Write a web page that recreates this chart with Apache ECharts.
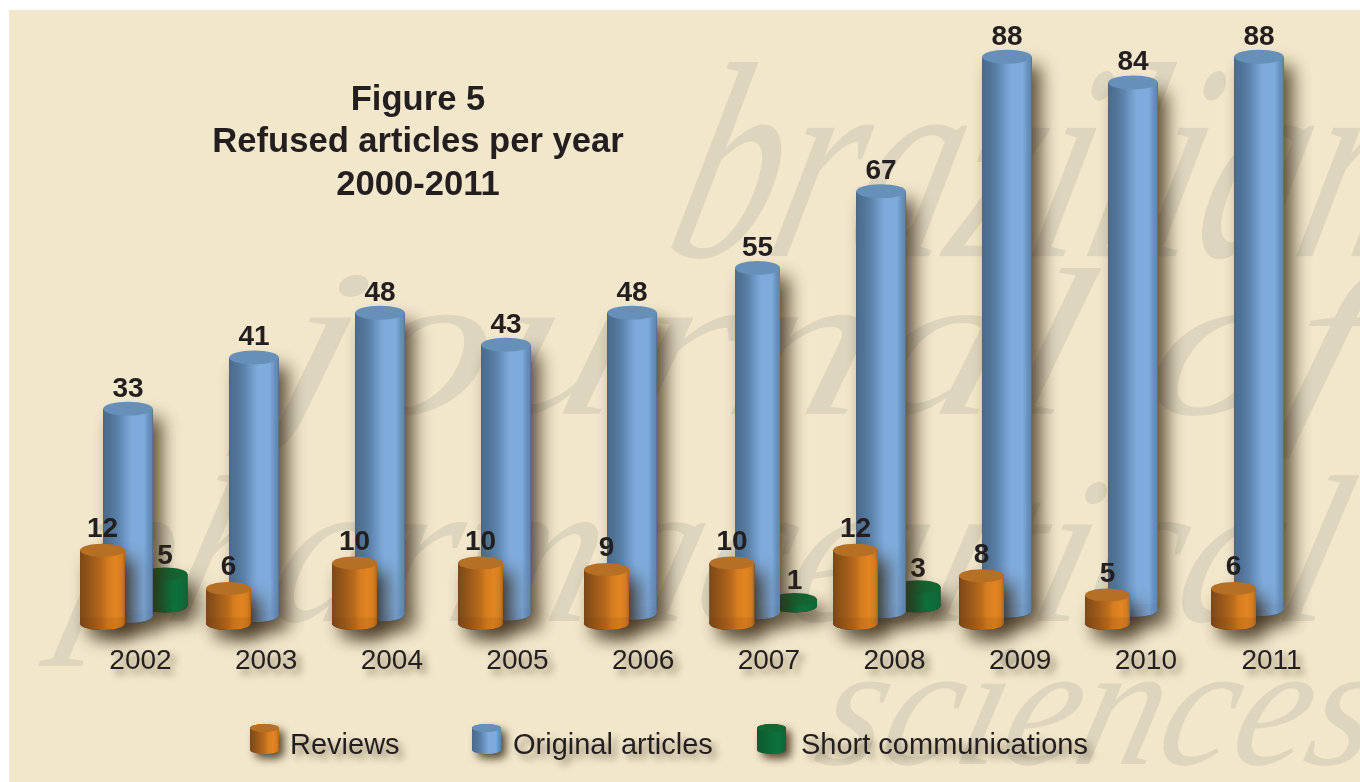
<!DOCTYPE html>
<html>
<head>
<meta charset="utf-8">
<style>
html,body{margin:0;padding:0;background:#fff;width:1360px;height:782px;overflow:hidden}
#chart{position:absolute;left:9px;top:10px;width:1351px;height:772px}
</style>
<script src="https://cdn.jsdelivr.net/npm/echarts@6/dist/echarts.min.js"></script>
</head>
<body>
<div id="chart"></div>
<script>
const years = ['2002','2003','2004','2005','2006','2007','2008','2009','2010','2011'];
const reviews = [12,6,10,10,9,10,12,8,5,6];
const originalArticles = [33,41,48,43,48,55,67,88,84,88];
const shortCommunications = [5,null,null,null,null,1,3,null,null,null];
const titleText = 'Figure 5\nRefused articles per year\n2000-2011';

const FONT = '"Liberation Sans", Arial, sans-serif';
const INK = '#231f20';
const SHADOW = 'rgba(52,38,18,0.8)';
const columnNudge = [0,.33,.67,1,1.33,1.15,-1,-.7,-.33,0];

function bands(stops){
  return new echarts.graphic.LinearGradient(0,0,1,0,stops.map(s=>({offset:s[0],color:s[1]})));
}
const looks = {
  orange:{w:45,ry:6.5,dx:-38,topDy:7,botDy:3.5,drift:0,top:'#b57026',shade:'rgba(110,60,10,0.14)',labelDy:-21,
    fill:[[0,'#7b4818'],[.12,'#8a5019'],[.3,'#a05c1a'],[.5,'#bb6c1d'],[.62,'#d67d20'],[.8,'#e28521'],[.93,'#d27c20'],[1,'#a9651f']]},
  blue:{w:49.5,ry:7,dx:-12.5,topDy:0,botDy:-4,drift:-.75,top:'#6790b8',shade:'rgba(60,100,150,0.06)',labelDy:-20,
    fill:[[0,'#4b6b8d'],[.14,'#507395'],[.3,'#5c82aa'],[.45,'#7099c8'],[.58,'#7fabdc'],[.82,'#7dabdc'],[.92,'#6890bd'],[1,'#5f83ab']]},
  green:{w:45,ry:6.5,dx:24.5,topDy:-14,botDy:-14,drift:0,top:'#136532',shade:'rgba(0,0,0,0)',labelDy:-18,
    fill:[[0,'#0f5a30'],[.3,'#0d6434'],[.7,'#0c733d'],[1,'#0e6536']]}
};

function cylinderItem(look){
  return function(params, api){
    const i = api.value(0), v = api.value(1);
    if (v == null || isNaN(v)) return null;
    const p = api.coord([i, v]), z = api.coord([i, 0]);
    const w = (look === looks.blue && i === 5) ? 45 : look.w;
    const cx = p[0] + look.dx + columnNudge[i];
    const yt = p[1] + look.topDy;
    const yb = Math.max(z[1] + look.botDy + look.drift * i, yt + 1);
    const rx = w / 2, ry = look.ry;
    const fill = bands(look.fill);
    const kids = [];
    const shadowStyle = {fill:'#3a2c16',shadowBlur:18,shadowColor:SHADOW,shadowOffsetX:9,shadowOffsetY:9};
    kids.push({type:'rect',shape:{x:cx-rx,y:yt,width:w,height:yb-yt},style:shadowStyle});
    kids.push({type:'ellipse',shape:{cx:cx,cy:yb,rx:rx,ry:ry},style:shadowStyle});
    kids.push({type:'rect',shape:{x:cx-rx,y:yt,width:w,height:yb-yt},style:{fill:fill}});
    kids.push({type:'ellipse',shape:{cx:cx,cy:yb,rx:rx,ry:ry},style:{fill:fill}});
    if (yb - yt > 18) {
      const pts = [[cx-rx,yb-6]];
      for (let k=0;k<=24;k++){const a=Math.PI*(1-k/24);pts.push([cx+rx*Math.cos(a),yb+ry*Math.sin(a)]);}
      pts.push([cx+rx,yb-6]);
      kids.push({type:'polygon',shape:{points:pts},style:{fill:look.shade}});
    }
    kids.push({type:'ellipse',shape:{cx:cx,cy:yt,rx:rx,ry:ry},style:{fill:look.top}});
    kids.push({type:'text',style:{text:String(v),x:cx,y:yt+look.labelDy,
      textAlign:'center',textVerticalAlign:'middle',font:'bold 28px '+FONT,fill:INK,
      shadowBlur:7,shadowColor:'rgba(60,45,20,0.55)',shadowOffsetX:4,shadowOffsetY:4}});
    return {type:'group',children:kids};
  };
}
function seriesOf(name, values, look, z){
  return {
    type:'custom',name:name,z:z,clip:false,
    encode:{x:0,y:1},
    renderItem:cylinderItem(look),
    itemStyle:{color:bands(look.fill)},
    data:values.map((v,i)=>[i,v])
  };
}
function legendOf(name, look, left, gap){
  return {
    left:left-9,top:714,padding:0,itemWidth:29,itemHeight:30,selectedMode:false,
    data:[{name:name,icon:'path://M0,4 A14.5,4 0 0 1 29,4 L29,26 A14.5,4 0 0 1 0,26 Z',
      itemStyle:{color:bands(look.fill),shadowBlur:8,shadowColor:SHADOW,shadowOffsetX:5,shadowOffsetY:5}}],
    formatter:n=>'{t|'+n+'}',
    textStyle:{rich:{t:{fontFamily:FONT,fontSize:29,color:INK,padding:[13,0,0,gap],
      textShadowBlur:7,textShadowColor:'rgba(60,45,20,0.55)',textShadowOffsetX:5,textShadowOffsetY:5}}}
  };
}
function legendCap(left, color){
  return {type:'ellipse',z:100,silent:true,shape:{cx:left-9+14.5,cy:728-10,rx:14.5,ry:4},style:{fill:color}};
}
function watermark(text,x,baseline,size,sx){
  return {type:'text',z:-5,silent:true,x:x-9-.055*size,y:baseline-10+size*.217,scaleX:sx,skewX:-.25,
    style:{text:text,font:'italic '+size+'px "Liberation Serif", serif',fill:'#ddd5bd',
      stroke:'#f2e7cb',lineWidth:size*.036,textVerticalAlign:'bottom'}};
}

const chart = echarts.init(document.getElementById('chart'),null,{renderer:'canvas'});
chart.setOption({
  animation:false,
  backgroundColor:'#f2e7cb',
  title:{text:titleText,left:404,top:64,textAlign:'center',
    textStyle:{fontFamily:FONT,fontWeight:'bold',fontSize:34.6,lineHeight:42.5,color:INK}},
  grid:{left:68.67,top:34,width:1256.7,height:576},
  xAxis:{type:'category',data:years,
    axisLine:{show:false},axisTick:{show:false},
    axisLabel:{margin:27,fontFamily:FONT,fontSize:28,color:INK,
      textShadowBlur:7,textShadowColor:'rgba(60,45,20,0.55)',textShadowOffsetX:5,textShadowOffsetY:5}},
  yAxis:{type:'value',min:0,max:90,show:false},
  legend:[
    legendOf('Reviews',looks.orange,250,6),
    legendOf('Original articles',looks.blue,472,7),
    legendOf('Short communications',looks.green,757,10)
  ],
  graphic:{elements:[
    watermark('brazilian',660,262,280,.72),
    watermark('journal of',265,418,210,1.3),
    watermark('pharmaceutical',60,625,210,.96),
    watermark('sciences',810,768,175,.95),
    legendCap(250,'#b57026'),legendCap(472,'#6790b8'),legendCap(757,'#136532')
  ]},
  series:[
    seriesOf('Reviews',reviews,looks.orange,6),
    seriesOf('Original articles',originalArticles,looks.blue,4),
    seriesOf('Short communications',shortCommunications,looks.green,3)
  ]
});
</script>
</body>
</html>
